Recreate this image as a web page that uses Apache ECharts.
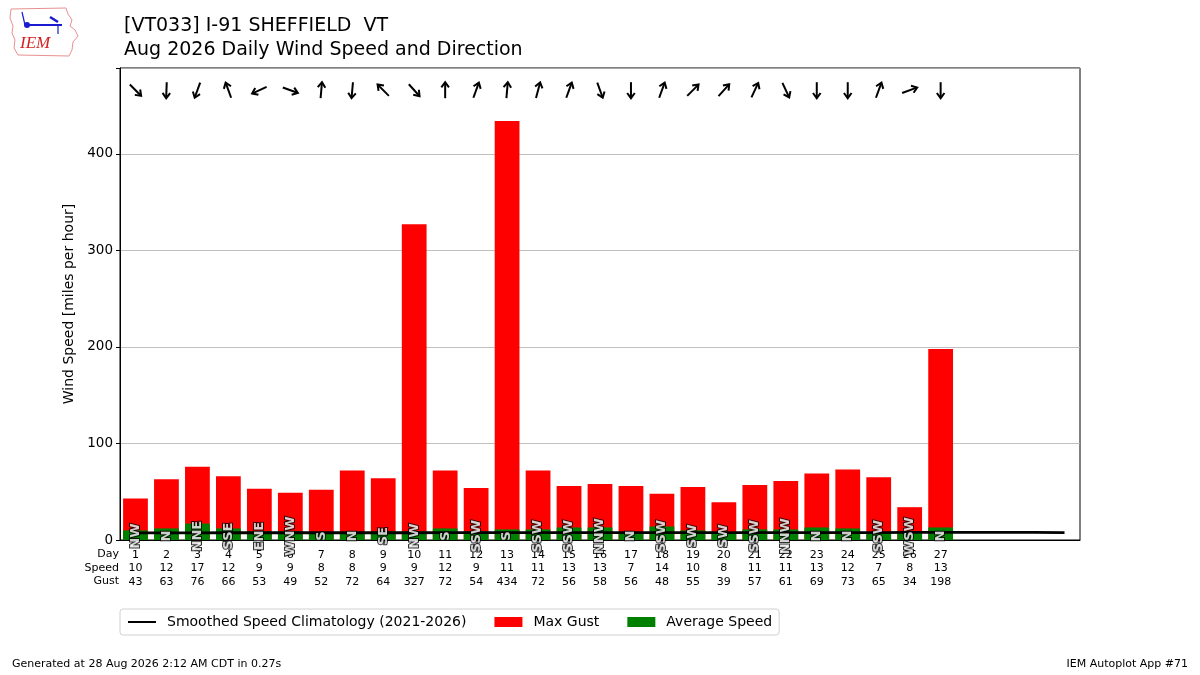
<!DOCTYPE html>
<html>
<head>
<meta charset="utf-8">
<script src="https://cdn.jsdelivr.net/npm/echarts@6/dist/echarts.min.js"></script>
<style>
  html, body { margin: 0; padding: 0; background: #fff; }
  #chart { width: 1200px; height: 675px; }
</style>
</head>
<body>
<div id="chart"></div>
<script>
// daily values for Aug 2026
var days = ['1','2','3','4','5','6','7','8','9','10','11','12','13','14','15','16',
            '17','18','19','20','21','22','23','24','25','26','27','28','29','30','31'];
var avgSpeed = [10,12,17,12,9,9,8,8,9,9,12,9,11,11,13,13,7,14,10,8,11,11,13,12,7,8,13];
var maxGust = [43,63,76,66,53,49,52,72,64,327,72,54,434,72,56,58,56,48,55,39,57,61,69,73,65,34,198];
var dirText = ['NW','N','NNE','SSE','ENE','WNW','S','N','SE','NW','S','SSW','S','SSW','SSW','NNW',
               'N','SSW','SW','SW','SSW','NNW','N','N','SSW','WSW','N'];
var dirDeg = [315,2,20,160,65,290,185,5,135,318,180,200,185,195,200,340,
              0,200,225,222,205,335,0,0,200,250,0];
var climo = [7.4,7.4,7.4,7.5,7.5,7.5,7.5,7.5,7.5,7.5,7.6,7.6,7.6,7.6,7.6,7.6,
             7.6,7.6,7.6,7.7,7.7,7.7,7.7,7.7,7.7,7.8,7.8,7.9,7.9,7.8,7.6];

var FONT = 'DejaVu Sans';
var nDays = avgSpeed.length;

var myChart = echarts.init(document.getElementById('chart'));

// arrows near the top, pointing where the wind blows to
var arrowData = [];
var labelData = [];
for (var i = 0; i < nDays; i++) {
    arrowData.push([i, 466, dirDeg[i]]);
    labelData.push({value: [days[i], 4], name: dirText[i]});
}

function renderArrow(params, api) {
    var p = api.coord([api.value(0), api.value(1)]);
    var rot = -(api.value(2) + 180) * Math.PI / 180;
    var st = {stroke: '#000', lineWidth: 2, fill: null, lineCap: 'butt', lineJoin: 'miter'};
    return {
        type: 'group', x: p[0], y: p[1], rotation: rot,
        children: [
            {type: 'polyline', shape: {points: [[0, 8], [0, -7.5]]}, style: st},
            {type: 'polyline', shape: {points: [[-3.8, -2.8], [0, -8], [3.8, -2.8]]}, style: st}
        ]
    };
}

var option = {
    animation: false,
    textStyle: {fontFamily: FONT},
    title: [
        {text: '[VT033] I-91 SHEFFIELD  VT', left: 119, top: 12,
         textStyle: {fontFamily: FONT, fontSize: 19, fontWeight: 'normal', color: '#000'}},
        {text: 'Aug 2026 Daily Wind Speed and Direction', left: 119, top: 36,
         textStyle: {fontFamily: FONT, fontSize: 19, fontWeight: 'normal', color: '#000'}}
    ],
    legend: {
        left: 120, top: 609,
        data: [
            {name: 'Smoothed Speed Climatology (2021-2026)', itemStyle: {color: 'rgba(0,0,0,0)', borderWidth: 0}},
            {name: 'Max Gust', icon: 'rect'},
            {name: 'Average Speed', icon: 'rect'}
        ],
        itemWidth: 28, itemHeight: 10, itemGap: 28,
        padding: [6, 7],
        borderColor: '#d0d0d0', borderWidth: 1, borderRadius: 3,
        textStyle: {fontFamily: FONT, fontSize: 14, color: '#000', padding: [0, 0, 0, 6]}
    },
    grid: {
        left: 120, right: 120, top: 68, bottom: 135,
        show: true, borderColor: '#000', borderWidth: 1
    },
    xAxis: {
        type: 'category',
        data: days,
        boundaryGap: true,
        axisLine: {lineStyle: {color: '#000', width: 1}},
        axisTick: {
            alignWithLabel: true, length: 4,
            interval: function (idx) { return idx < nDays; },
            lineStyle: {color: '#000'}
        },
        axisLabel: {
            interval: 0, margin: 8,
            fontFamily: FONT, fontSize: 11, lineHeight: 13.5, color: '#000',
            formatter: function (v, idx) {
                if (idx >= nDays) return '';
                return v + '\n' + avgSpeed[idx] + '\n' + maxGust[idx];
            }
        },
        splitLine: {show: false}
    },
    yAxis: {
        type: 'value',
        min: 0, max: 489, interval: 100,
        name: 'Wind Speed [miles per hour]',
        nameLocation: 'middle', nameGap: 44,
        nameTextStyle: {fontFamily: FONT, fontSize: 14, color: '#000'},
        axisLine: {show: true, lineStyle: {color: '#000'}},
        axisTick: {show: true, length: 4, lineStyle: {color: '#000'}},
        axisLabel: {
            fontFamily: FONT, fontSize: 13.5, color: '#000', margin: 7,
            formatter: function (v) { return v % 100 === 0 ? v : ''; }
        },
        splitLine: {lineStyle: {color: '#b0b0b0', width: 0.8}}
    },
    graphic: [
        // table row names
        {type: 'text', right: 1200 - 119, top: 549, style: {text: 'Day', font: '11px ' + FONT, fill: '#000', textAlign: 'right'}},
        {type: 'text', right: 1200 - 119, top: 562.5, style: {text: 'Speed', font: '11px ' + FONT, fill: '#000', textAlign: 'right'}},
        {type: 'text', right: 1200 - 119, top: 576, style: {text: 'Gust', font: '11px ' + FONT, fill: '#000', textAlign: 'right'}},
        // footer
        {type: 'text', left: 12, top: 659, style: {text: 'Generated at 28 Aug 2026 2:12 AM CDT in 0.27s', font: '11px ' + FONT, fill: '#000'}},
        {type: 'text', right: 12, top: 659, style: {text: 'IEM Autoplot App #71', font: '11px ' + FONT, fill: '#000'}},
        // rough IEM logo
        {type: 'polyline', shape: {points: [[11,9],[66,8],[68,14],[72,20],[70,26],[75,30],[78,36],[73,42],[72,50],[69,56],[18,55],[14,48],[15,40],[12,33],[13,26],[10,18],[11,9]]},
         style: {stroke: '#e89090', lineWidth: 1, fill: 'none'}},
        {type: 'line', shape: {x1: 26, y1: 25, x2: 62, y2: 25}, style: {stroke: '#1a1ad0', lineWidth: 2}},
        {type: 'line', shape: {x1: 50, y1: 17, x2: 58, y2: 22}, style: {stroke: '#1a1ad0', lineWidth: 2.5}},
        {type: 'line', shape: {x1: 58, y1: 25, x2: 58, y2: 34}, style: {stroke: '#1a1ad0', lineWidth: 1.2}},
        {type: 'line', shape: {x1: 22, y1: 12, x2: 25, y2: 25}, style: {stroke: '#1a1ad0', lineWidth: 1.2}},
        {type: 'circle', shape: {cx: 27, cy: 25, r: 3}, style: {fill: '#1a1ad0'}},
        {type: 'text', left: 20, top: 35, style: {text: 'IEM', font: 'italic 17px "Liberation Serif"', fill: '#d42020'}}
    ],
    series: [
        {
            name: 'Max Gust',
            type: 'bar',
            data: maxGust,
            barWidth: '80%',
            barGap: '-100%',
            itemStyle: {color: '#ff0000'},
            z: 2
        },
        {
            name: 'Average Speed',
            type: 'bar',
            data: avgSpeed,
            barWidth: '80%',
            barGap: '-100%',
            itemStyle: {color: '#008000'},
            z: 3
        },
        {
            name: 'Smoothed Speed Climatology (2021-2026)',
            type: 'line',
            data: climo,
            symbol: 'none',
            lineStyle: {color: '#000', width: 2.8},
            itemStyle: {color: '#000'},
            z: 4
        },
        {
            name: 'dirlabels',
            type: 'scatter',
            data: labelData,
            symbolSize: 1,
            itemStyle: {color: 'rgba(0,0,0,0)'},
            label: {
                show: true, position: 'inside', rotate: 90,
                formatter: function (p) { return p.name; },
                fontFamily: FONT, fontSize: 13, fontWeight: 'bold',
                color: '#fff', textBorderColor: '#000', textBorderWidth: 2
            },
            z: 5
        },
        {
            name: 'arrows',
            type: 'custom',
            data: arrowData,
            renderItem: renderArrow,
            z: 5
        }
    ]
};

myChart.setOption(option);
</script>
</body>
</html>
